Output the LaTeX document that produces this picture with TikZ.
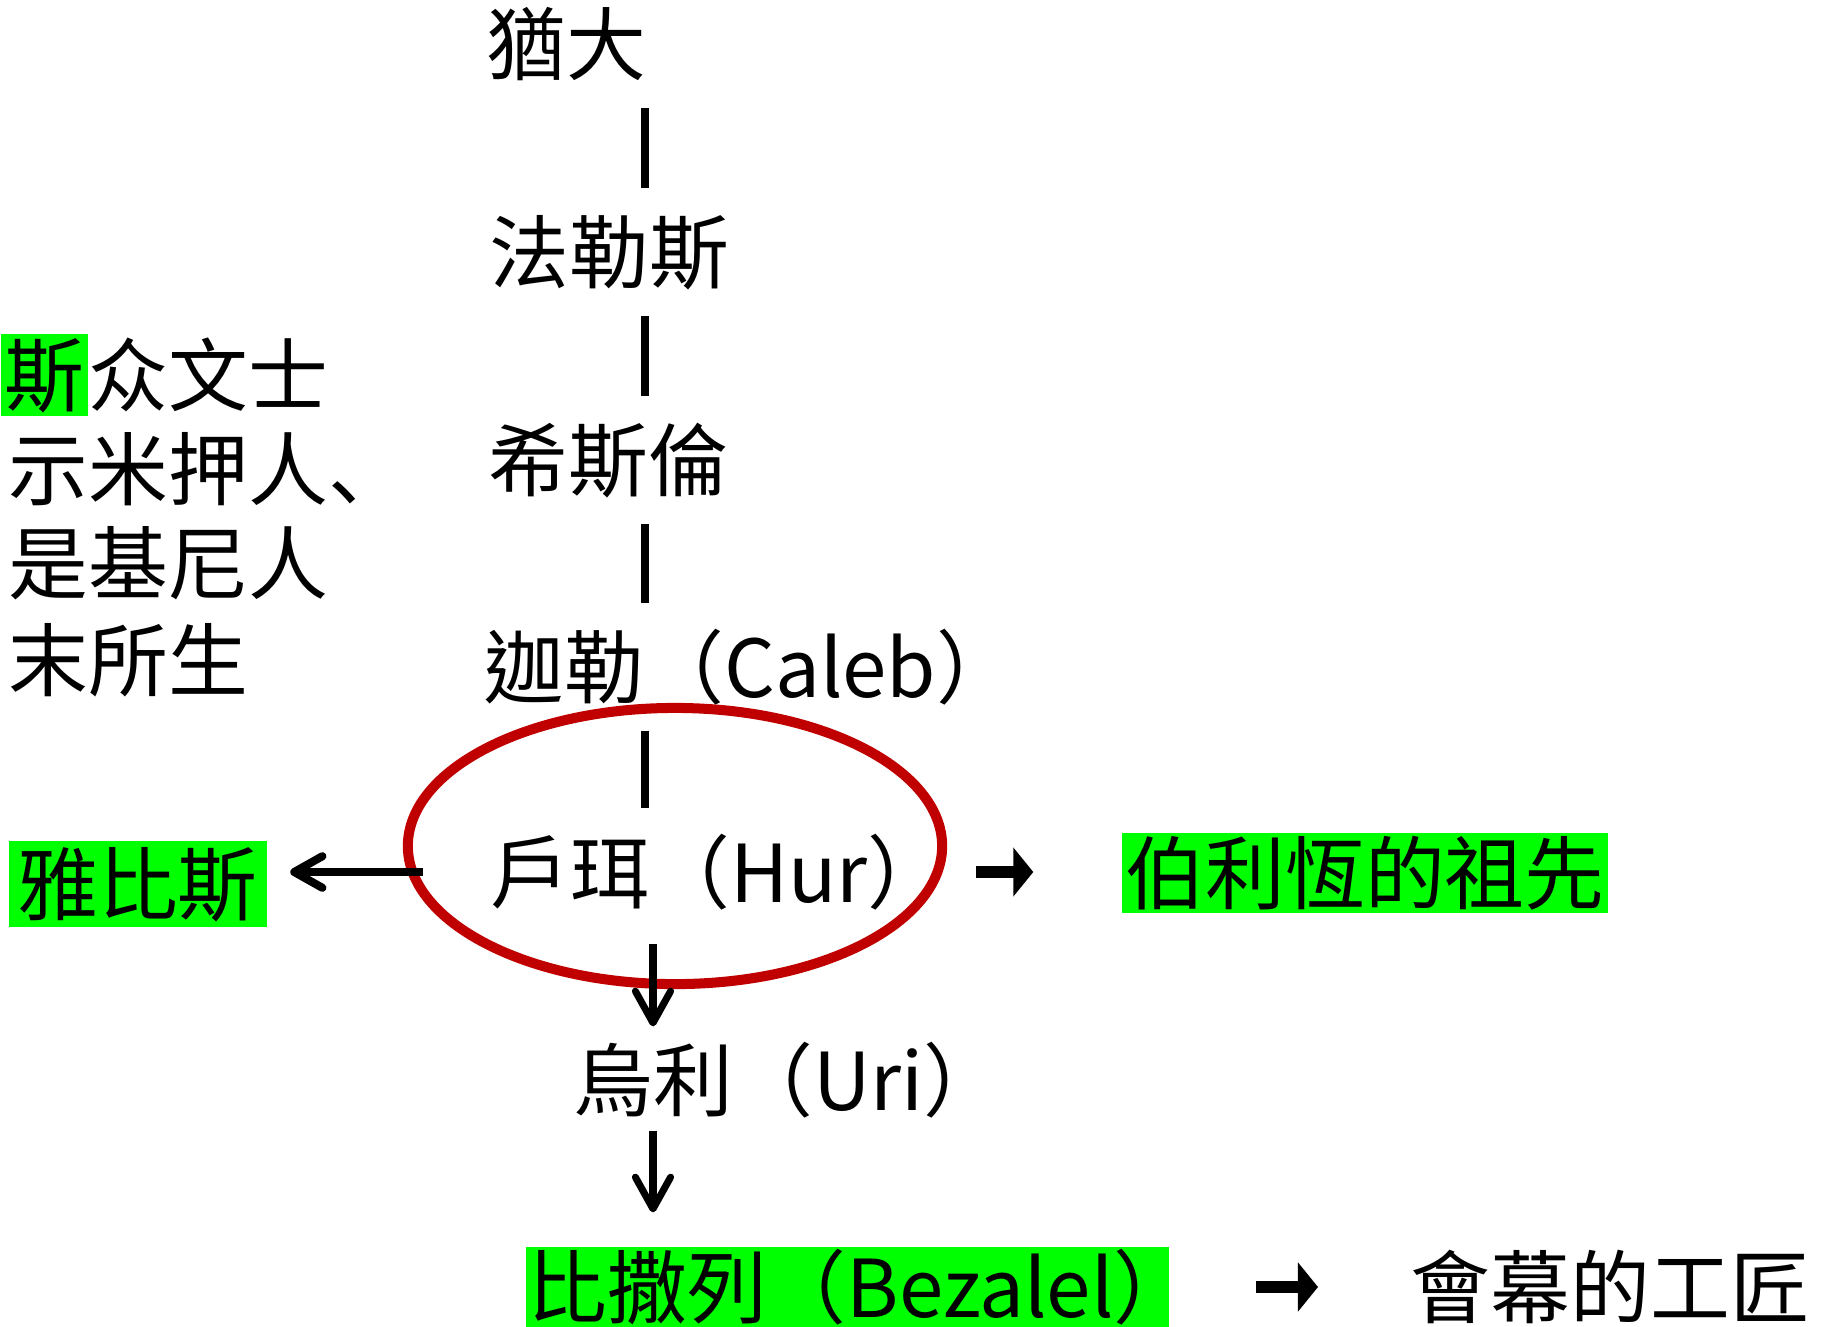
\documentclass[tikz,border=0pt]{standalone}
\usepackage{fontspec}
\newfontfamily\cjk{Noto Sans CJK TC}
\newfontfamily\cjksc{Noto Sans CJK SC}
\usepackage{tikz}
\usetikzlibrary{shapes.geometric,calc,positioning,arrows.meta}
\definecolor{hlgreen}{RGB}{0,255,0}
\definecolor{ringred}{RGB}{192,0,0}

\begin{document}
\begin{tikzpicture}[
			x=0.01cm, y=-0.01cm,
			every node/.style={font=\cjk\fontsize{22.7pt}{27pt}\selectfont, inner sep=0pt, text height=20pt, text depth=2.7pt},
			person/.style={anchor=west},
			marked/.style={fill=hlgreen, inner xsep=1pt},
			link/.style={line width=2pt, shorten <=0.23cm, shorten >=0.23cm},
			down/.style={-{Straight Barb[length=9pt, width=10pt, round]}, line width=2pt},
			back/.style={-{Straight Barb[length=8pt, width=9pt, round]}, line width=2.3pt},
			fwd/.style={-{Triangle[length=5.7pt, width=13.7pt]}, line width=3.4pt},
			ring/.style={ellipse, draw=ringred, line width=2.85pt, minimum width=5.34cm, minimum height=2.76cm}
		]
		\useasboundingbox (0,0) rectangle (1826,1326);

		% family line
		\node (judah) [person] at (486,44) {猶大};
		\node (perez) [person] at (489,252) {法勒斯};
		\node (hezron) [person] at (488,460) {希斯倫};
		\node (caleb) [person] at (484,667) {迦勒（Caleb）};
		\node (hur) [person] at (490,872) {戶珥（Hur）};
		\node (uri) [person] at (573,1080) {烏利（Uri）};
		\node (bezalel) [marked, person, inner xsep=0.5pt] at (525,1287) {比撒列（Bezalel）\kern-7.4pt};
		\node (craft) [person] at (1410,1287) {會幕的工匠};

		% side notes
		\node (jabez) [marked, minimum height=0.86cm, inner xsep=2.5pt] at (138,884) {雅比斯};
		\node (bethle) [marked] at (1365,873) {伯利恆的祖先};
		\node (scribe) [marked, person, minimum height=0.81cm] at (0,375) {斯};
		\node (scribes) [right=0pt of scribe] {众文士};
		\node (note2) [person, font=\cjksc\fontsize{22.7pt}{27pt}\selectfont] at (8,469) {示米押人、};
		\node (note3) [person] at (8,563) {是基尼人};
		\node (note4) [person] at (8,660) {末所生};

		\node (ring) [ring] at (675,846) {};
		\coordinate (spine) at (645,0);
		\coordinate (stem) at (653,0);

		% lines
		\draw[link] (judah.south -| spine) -- (perez.north -| spine);
		\draw[link] (perez.south -| spine) -- (hezron.north -| spine);
		\draw[link] (hezron.south -| spine) -- (caleb.north -| spine);
		\draw[link] (caleb.south -| spine) -- (hur.north -| spine);

		% arrows
		\draw[down, shorten <=0.31cm, shorten >=0.13cm] (hur.south -| stem) -- (uri.north -| stem);
		\draw[down, shorten <=0.1cm, shorten >=0.34cm] (uri.south -| stem) -- (bezalel.north -| stem);
		\draw[back, shorten >=0.23cm] ($(ring.west |- hur)+(20,0)$) -- (jabez.east |- hur);
		\draw[fwd] ($(ring.east |- hur)+(29,0)$) -- ($(bethle.west |- hur)+(-88,0)$);
		\draw[fwd] ($(bezalel.east)+(86,0)$) -- ($(craft.west)+(-92,0)$);
	\end{tikzpicture}
\end{document}
